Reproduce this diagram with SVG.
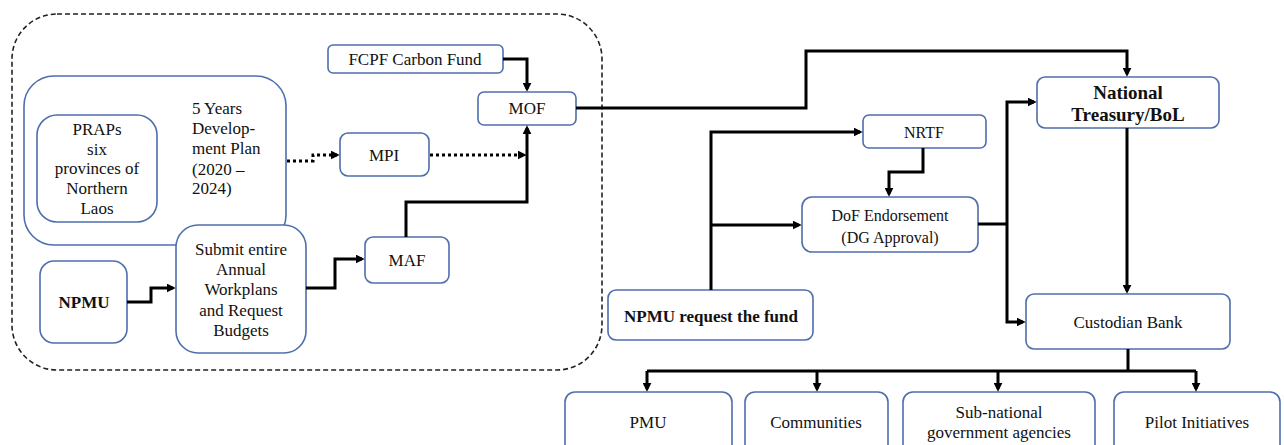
<svg xmlns="http://www.w3.org/2000/svg" width="1284" height="445" viewBox="0 0 1284 445">
<style>
.box{fill:#fff;stroke:#4f6ead;stroke-width:1.6}
.t{font-family:"Liberation Serif","Times New Roman",serif;font-size:17px;fill:#111;text-anchor:middle;dominant-baseline:central}
.l{text-anchor:start}
.b{font-weight:bold}
.c{fill:none;stroke:#000;stroke-width:3}
.a{marker-end:url(#arr)}
.d{stroke-dasharray:3 3}
</style>
<defs>
<marker id="arr" viewBox="0 0 10 10" refX="7" refY="5" markerWidth="9" markerHeight="9" markerUnits="userSpaceOnUse" orient="auto">
<path d="M0,0 L10,5 L0,10 z" fill="#000"/>
</marker>
</defs>
<rect x="12" y="14" width="590" height="356" rx="45" fill="none" stroke="#222" stroke-width="1.6" stroke-dasharray="5 3"/>
<g id="plan"><rect class="box" x="24" y="76" width="262" height="169" rx="30"/>
<text class="t l" x="192" y="108">5 Years</text><text class="t l" x="192" y="128">Develop-</text><text class="t l" x="192" y="148">ment Plan</text><text class="t l" x="192" y="169">(2020 –</text><text class="t l" x="192" y="188">2024)</text></g>
<g id="praps"><rect class="box" x="37" y="115" width="120" height="107" rx="20"/>
<text class="t" x="97" y="129">PRAPs</text><text class="t" x="97" y="149">six</text><text class="t" x="97" y="168">provinces of</text><text class="t" x="97" y="188">Northern</text><text class="t" x="97" y="208">Laos</text></g>
<g id="fcpf"><rect class="box" x="328" y="45" width="175" height="28" rx="5"/><text class="t" x="415" y="59">FCPF Carbon Fund</text></g>
<g id="mof"><rect class="box" x="478" y="92" width="98" height="33" rx="6"/><text class="t" x="527" y="108">MOF</text></g>
<g id="mpi"><rect class="box" x="340" y="133" width="89" height="43" rx="8"/><text class="t" x="384" y="155">MPI</text></g>
<g id="maf"><rect class="box" x="365" y="237" width="84" height="46" rx="8"/><text class="t" x="407" y="260">MAF</text></g>
<g id="submit"><rect class="box" x="176" y="225" width="130" height="128" rx="22"/>
<text class="t" x="241" y="249">Submit entire</text><text class="t" x="241" y="269">Annual</text><text class="t" x="241" y="289">Workplans</text><text class="t" x="241" y="310">and Request</text><text class="t" x="241" y="330">Budgets</text></g>
<g id="npmu"><rect class="box" x="40" y="261" width="87" height="82" rx="14"/><text class="t b" x="84" y="302">NPMU</text></g>
<g id="npmureq"><rect class="box" x="608" y="290" width="205" height="50" rx="8"/><text class="t b" x="711" y="316">NPMU request the fund</text></g>
<g id="nrtf"><rect class="box" x="863" y="115" width="123" height="33" rx="6"/><text class="t" x="924" y="132" style="font-size:16px">NRTF</text></g>
<g id="dof"><rect class="box" x="802" y="197" width="176" height="55" rx="10"/><text class="t" x="890" y="215" style="font-size:16px">DoF Endorsement</text><text class="t" x="890" y="237" style="font-size:16px">(DG Approval)</text></g>
<g id="treasury"><rect class="box" x="1037" y="77" width="182" height="51" rx="8"/><text class="t b" x="1128" y="92" style="font-size:19px">National</text><text class="t b" x="1128" y="114" style="font-size:19px">Treasury/BoL</text></g>
<g id="custodian"><rect class="box" x="1026" y="294" width="204" height="55" rx="8"/><text class="t" x="1128" y="322">Custodian Bank</text></g>
<g id="pmu"><rect class="box" x="565" y="392" width="167" height="65" rx="10"/><text class="t" x="648" y="422">PMU</text></g>
<g id="communities"><rect class="box" x="745" y="392" width="143" height="65" rx="10"/><text class="t" x="816" y="422">Communities</text></g>
<g id="subnational"><rect class="box" x="903" y="392" width="192" height="65" rx="10"/><text class="t" x="999" y="412">Sub-national</text><text class="t" x="999" y="432">government agencies</text></g>
<g id="pilot"><rect class="box" x="1114" y="392" width="166" height="65" rx="10"/><text class="t" x="1197" y="422">Pilot Initiatives</text></g>
<g id="connectors">
<path class="c a" d="M503,59 H527 V89"/>
<path class="c a d" d="M287,161 H313 V155 H337"/>
<path class="c a d" d="M430,155 H524"/>
<path class="c a" d="M406,237 V202 H527 V128"/>
<path class="c a" d="M127,302 H151 V288 H173"/>
<path class="c a" d="M306,288 H335 V259 H362"/>
<path class="c a" d="M576,108 H806 V51 H1127 V74"/>
<path class="c a" d="M711,290 V132 H860"/>
<path class="c a" d="M711,225 H799"/>
<path class="c a" d="M923,148 V172 H889 V194"/>
<path class="c" d="M978,224 H1007"/>
<path class="c a" d="M1007,224 V102 H1034"/>
<path class="c a" d="M1007,224 V322 H1023"/>
<path class="c a" d="M1127,128 V291"/>
<path class="c" d="M1128,349 V371 M647,371 H1196"/>
<path class="c a" d="M647,371 V389"/>
<path class="c a" d="M817,371 V389"/>
<path class="c a" d="M998,371 V389"/>
<path class="c a" d="M1196,371 V389"/>
</g>
</svg>
